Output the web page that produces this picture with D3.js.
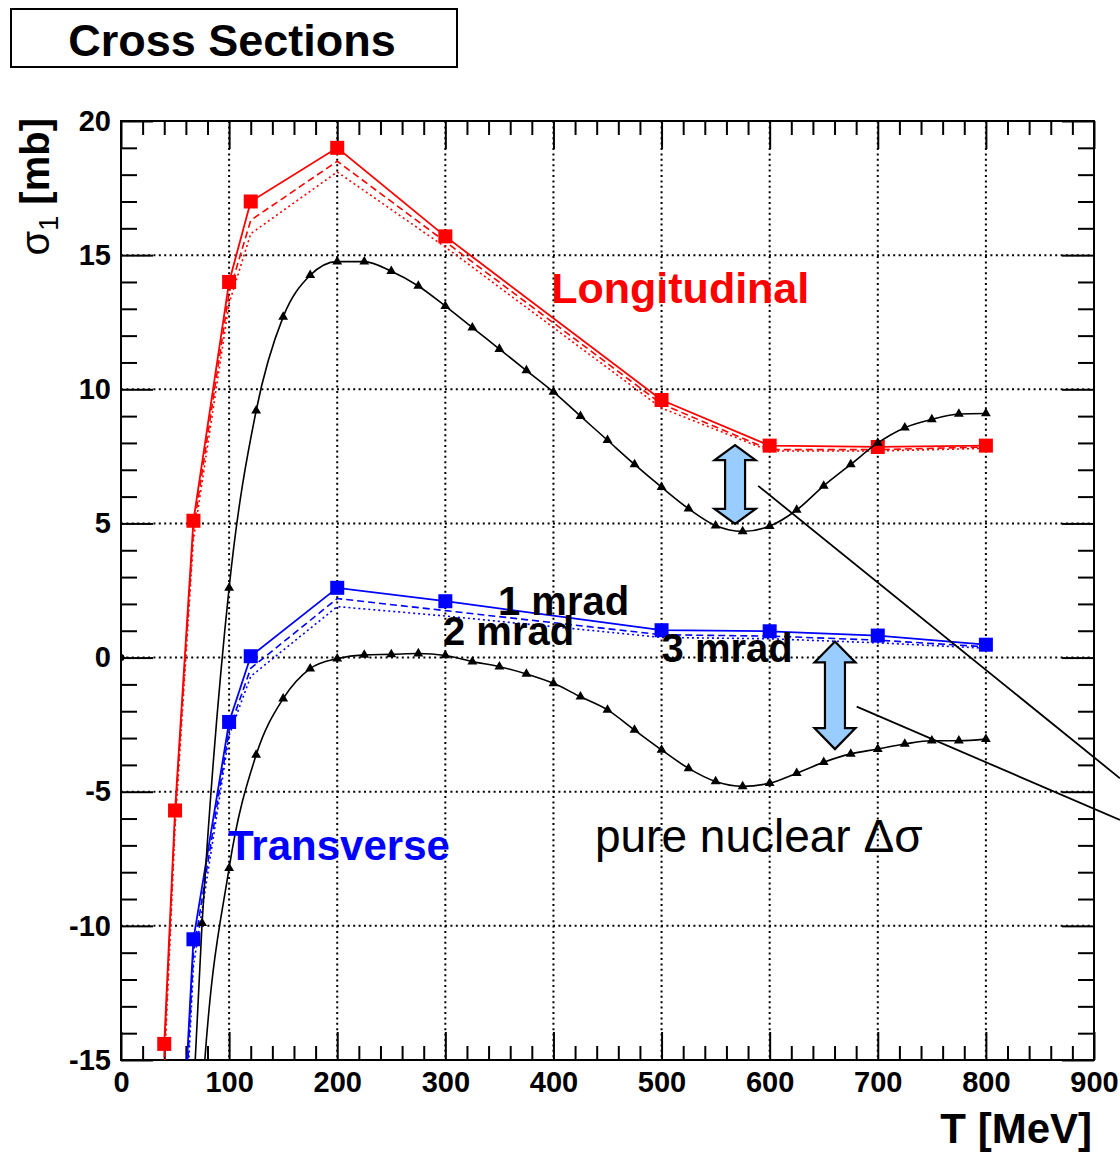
<!DOCTYPE html>
<html>
<head>
<meta charset="utf-8">
<script src="https://cdn.jsdelivr.net/npm/d3@7"></script>
<style>
  html, body { margin: 0; padding: 0; background: #fff; }
  svg { display: block; font-family: "Liberation Sans", Arial, Helvetica, sans-serif; }
</style>
</head>
<body>
<svg id="chart" width="1120" height="1155"></svg>
<script>
// ---------------- data ----------------
const xTicks = [0, 100, 200, 300, 400, 500, 600, 700, 800, 900];
const yTicks = [-15, -10, -5, 0, 5, 10, 15, 20];

// Longitudinal (red), 1 / 2 / 3 mrad
const longT = [40, 50, 67, 100, 120, 200, 300, 500, 600, 700, 800];
const long1 = [-14.4, -5.7, 5.1, 14.0, 17.0, 19.0, 15.7, 9.6, 7.9, 7.85, 7.9];
const long2 = [-14.9, -6.0, 4.75, 13.6, 16.3, 18.5, 15.5, 9.45, 7.75, 7.75, 7.85];
const long3 = [-15.4, -6.3, 4.4, 13.2, 15.8, 18.1, 15.3, 9.3, 7.7, 7.7, 7.8];

// Transverse (blue), 1 / 2 / 3 mrad
const transT = [48, 67, 100, 120, 200, 300, 500, 600, 700, 800];
const trans1 = [-25, -10.5, -2.4, 0.05, 2.6, 2.1, 1.02, 0.98, 0.82, 0.48];
const trans2 = [-26, -11.0, -2.7, -0.4, 2.2, 1.75, 0.85, 0.8, 0.65, 0.4];
const trans3 = [-27, -11.5, -2.9, -0.7, 1.9, 1.55, 0.75, 0.7, 0.55, 0.35];

// pure nuclear (black)
const nucT = [50, 75, 100, 125, 150, 175, 200, 225, 250, 275, 300, 325, 350, 375, 400, 425, 450, 475,
              500, 525, 550, 575, 600, 625, 650, 675, 700, 725, 750, 775, 800];
const nucLong = [-30, -9.9, 2.6, 9.2, 12.7, 14.25, 14.76, 14.76, 14.4, 13.85, 13.1, 12.3, 11.5, 10.7, 9.9, 9.0, 8.1, 7.2,
                 6.35, 5.55, 4.92, 4.7, 4.9, 5.5, 6.4, 7.2, 8.0, 8.57, 8.88, 9.08, 9.1];
const nucTrans = [-40, -16.5, -7.85, -3.63, -1.53, -0.41, -0.04, 0.1, 0.12, 0.15, 0.08, -0.15, -0.34, -0.61, -0.96, -1.46, -1.95, -2.7,
                  -3.44, -4.13, -4.62, -4.8, -4.68, -4.31, -3.9, -3.59, -3.41, -3.22, -3.1, -3.1, -3.04];
const originPoint = [[0, 0]];

// ---------------- layout ----------------
const svg = d3.select("#chart");
const x = d3.scaleLinear().domain([0, 900]).range([121, 1094]);
const y = d3.scaleLinear().domain([-15, 20]).range([1060, 121]);
const RED = "#ff0000", BLUE = "#0000ff";
const zip = (xs, ys) => xs.map((v, i) => [v, ys[i]]);
const plainFmt = d => String(d);

// title box
svg.append("rect").attr("x", 11).attr("y", 9).attr("width", 446).attr("height", 58)
  .attr("fill", "#fff").attr("stroke", "#000").attr("stroke-width", 2);
svg.append("text").attr("x", 232).attr("y", 56).attr("text-anchor", "middle")
  .attr("font-size", 45).attr("font-weight", "bold").text("Cross Sections");

// clip
svg.append("clipPath").attr("id", "plotclip").append("rect")
  .attr("x", x(0)).attr("y", y(20)).attr("width", x(900) - x(0)).attr("height", y(-15) - y(20));

// grid
const grid = svg.append("g");
grid.selectAll("line.gx").data(xTicks.filter(t => t > 0 && t < 900)).join("line")
  .attr("x1", d => x(d)).attr("x2", d => x(d)).attr("y1", y(20)).attr("y2", y(-15))
  .attr("stroke", "#000").attr("stroke-width", 2).attr("stroke-dasharray", "2,3.4");
grid.selectAll("line.gy").data(yTicks.filter(t => t > -15 && t < 20)).join("line")
  .attr("y1", d => y(d)).attr("y2", d => y(d)).attr("x1", x(0)).attr("x2", x(900))
  .attr("stroke", "#000").attr("stroke-width", 2).attr("stroke-dasharray", "2,3.4");

// axes (inward ticks on all sides)
const xMinor = d3.range(0, 901, 20).filter(v => v % 100 !== 0);
const yMinor = d3.range(-15, 21, 1).filter(v => v % 5 !== 0);
function styleAxis(g) {
  g.select(".domain").remove();
  g.selectAll(".tick line").attr("stroke", "#000").attr("stroke-width", 2);
  g.selectAll("text").attr("font-size", 29).attr("font-weight", "bold").attr("fill", "#000");
}
svg.append("g").attr("transform", `translate(0,${y(-15)})`)
  .call(d3.axisBottom(x).tickValues(xTicks).tickSize(-28).tickPadding(11).tickFormat(plainFmt))
  .call(styleAxis);
svg.append("g").attr("transform", `translate(0,${y(-15)})`)
  .call(d3.axisBottom(x).tickValues(xMinor).tickSize(-14).tickFormat("")).call(styleAxis);
svg.append("g").attr("transform", `translate(0,${y(20)})`)
  .call(d3.axisTop(x).tickValues(xTicks).tickSize(-28).tickFormat("")).call(styleAxis);
svg.append("g").attr("transform", `translate(0,${y(20)})`)
  .call(d3.axisTop(x).tickValues(xMinor).tickSize(-14).tickFormat("")).call(styleAxis);
svg.append("g").attr("transform", `translate(${x(0)},0)`)
  .call(d3.axisLeft(y).tickValues(yTicks).tickSize(-32).tickPadding(10).tickFormat(plainFmt))
  .call(styleAxis);
svg.append("g").attr("transform", `translate(${x(0)},0)`)
  .call(d3.axisLeft(y).tickValues(yMinor).tickSize(-16).tickFormat("")).call(styleAxis);
svg.append("g").attr("transform", `translate(${x(900)},0)`)
  .call(d3.axisRight(y).tickValues(yTicks).tickSize(-32).tickFormat("")).call(styleAxis);
svg.append("g").attr("transform", `translate(${x(900)},0)`)
  .call(d3.axisRight(y).tickValues(yMinor).tickSize(-16).tickFormat("")).call(styleAxis);

// frame
svg.append("rect").attr("x", x(0)).attr("y", y(20)).attr("width", x(900) - x(0)).attr("height", y(-15) - y(20))
  .attr("fill", "none").attr("stroke", "#000").attr("stroke-width", 2);

// axis titles
svg.append("text").attr("x", 1092).attr("y", 1143).attr("text-anchor", "end")
  .attr("font-size", 42).attr("font-weight", "bold").text("T [MeV]");
const yl = svg.append("text").attr("transform", "translate(49,118) rotate(-90)")
  .attr("text-anchor", "end").attr("font-size", 40);
yl.append("tspan").attr("font-weight", "normal").text("σ");
yl.append("tspan").attr("font-size", 27).attr("dy", 9).attr("font-weight", "normal").text("1");
yl.append("tspan").attr("dy", -9).attr("font-weight", "bold").text(" [mb]");

// data
const plot = svg.append("g").attr("clip-path", "url(#plotclip)");
const lineLin = d3.line().x(d => x(d[0])).y(d => y(d[1]));
const lineSmooth = d3.line().x(d => x(d[0])).y(d => y(d[1])).curve(d3.curveMonotoneX);

function drawSeries(pts, color, dash, width) {
  plot.append("path").datum(pts).attr("d", lineLin).attr("fill", "none")
    .attr("stroke", color).attr("stroke-width", width).attr("stroke-dasharray", dash);
}
drawSeries(zip(longT, long3), RED, "2,3", 1.6);
drawSeries(zip(longT, long2), RED, "7,4", 1.6);
drawSeries(zip(longT, long1), RED, null, 1.8);
drawSeries(zip(transT, trans3), BLUE, "2,3", 1.6);
drawSeries(zip(transT, trans2), BLUE, "7,4", 1.6);
drawSeries(zip(transT, trans1), BLUE, null, 1.8);

function squares(pts, color) {
  plot.append("g").selectAll("rect").data(pts).join("rect")
    .attr("x", d => x(d[0]) - 7).attr("y", d => y(d[1]) - 7)
    .attr("width", 14).attr("height", 14).attr("fill", color);
}
squares(zip(longT, long1), RED);
squares(zip(transT, trans1), BLUE);

function nuclear(pts) {
  plot.append("path").datum(pts).attr("d", lineSmooth).attr("fill", "none")
    .attr("stroke", "#000").attr("stroke-width", 1.6);
  plot.append("g").selectAll("path").data(pts).join("path")
    .attr("transform", d => `translate(${x(d[0])},${y(d[1])})`)
    .attr("d", d3.symbol(d3.symbolTriangle, 42)).attr("fill", "#000");
}
nuclear(zip(nucT, nucLong));
nuclear(zip(nucT, nucTrans));
plot.append("g").selectAll("path").data(originPoint).join("path")
  .attr("transform", d => `translate(${x(d[0])},${y(d[1])})`)
  .attr("d", d3.symbol(d3.symbolCircle, 40)).attr("fill", "#000");

// labels
function label(tx, ty, txt, color, size, weight) {
  svg.append("text").attr("x", x(tx)).attr("y", y(ty)).attr("fill", color)
    .attr("font-size", size).attr("font-weight", weight).text(txt);
}
label(398, 13.2, "Longitudinal", RED, 43, "bold");
label(99, -7.54, "Transverse", BLUE, 42, "bold");
label(348.7, 1.6, "1 mrad", "#000", 40, "bold");
label(297.8, 0.47, "2 mrad", "#000", 40, "bold");
label(500, -0.15, "3 mrad", "#000", 40, "bold");
label(438.4, -7.23, "pure nuclear Δσ", "#000", 46, "normal");

// annotation arrows and pointer lines
const arrows = [
  { t: 568, top: 7.92, bottom: 4.98, head: 15 },
  { t: 660.4, top: 0.6, bottom: -3.41, head: 21 }
];
arrows.forEach(a => {
  const cx = x(a.t), t0 = y(a.top), b0 = y(a.bottom), hw = 20.5, sw = 10, h = a.head;
  const pts = [[cx, t0], [cx + hw, t0 + h], [cx + sw, t0 + h], [cx + sw, b0 - h], [cx + hw, b0 - h],
               [cx, b0], [cx - hw, b0 - h], [cx - sw, b0 - h], [cx - sw, t0 + h], [cx - hw, t0 + h]];
  svg.append("polygon").attr("points", pts.map(p => p.join(",")).join(" "))
    .attr("fill", "#99ccff").attr("stroke", "#000").attr("stroke-width", 2.2).attr("stroke-linejoin", "miter");
});
const pointers = [
  [[589.4, 6.4], [924, -4.5]],
  [[680.5, -1.83], [924, -6.05]]
];
pointers.forEach(p => {
  svg.append("line").attr("x1", x(p[0][0])).attr("y1", y(p[0][1])).attr("x2", x(p[1][0])).attr("y2", y(p[1][1]))
    .attr("stroke", "#000").attr("stroke-width", 1.8);
});
</script>
</body>
</html>
